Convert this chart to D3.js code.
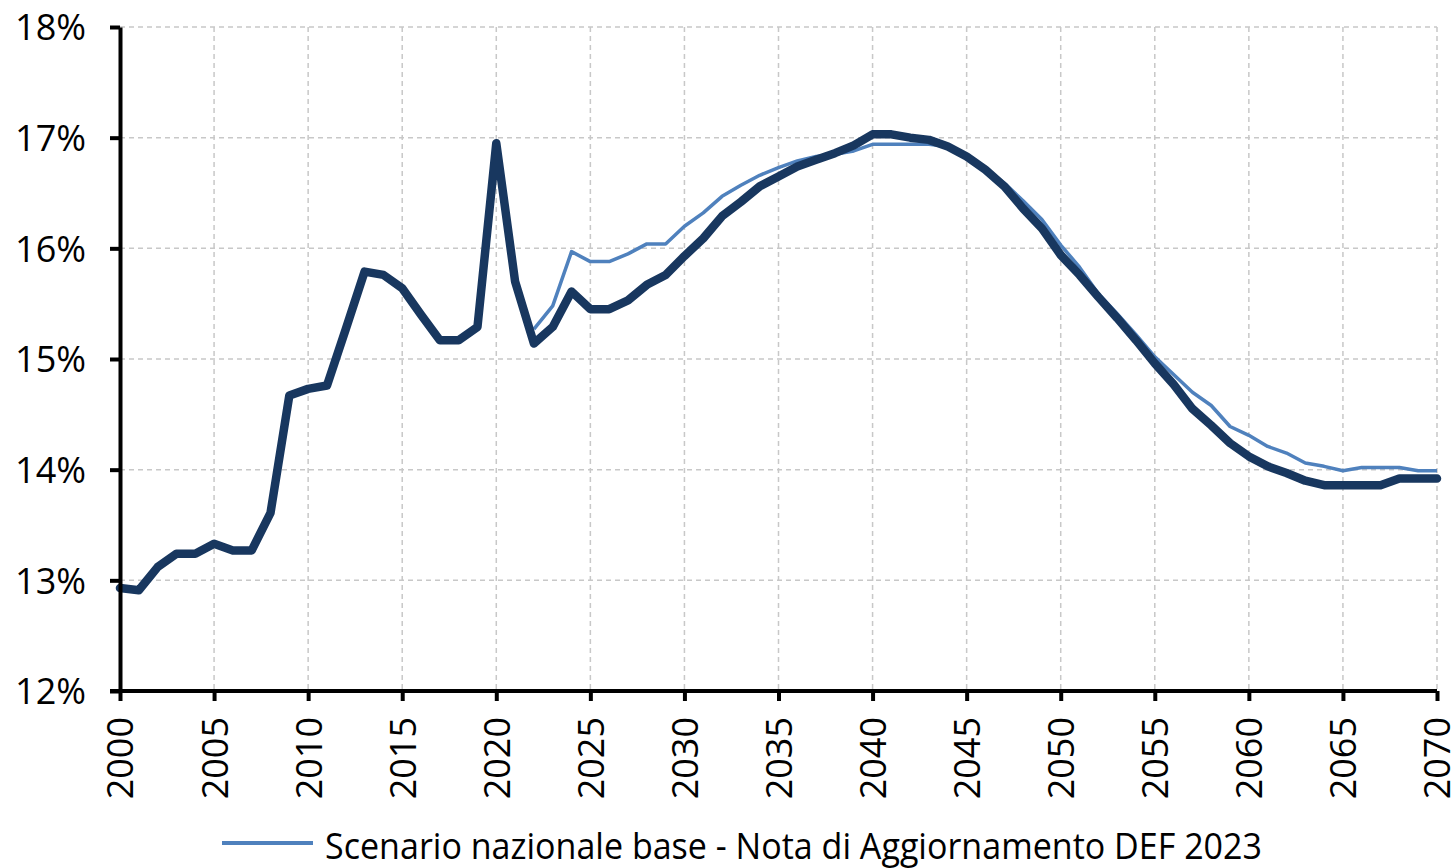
<!DOCTYPE html>
<html>
<head>
<meta charset="utf-8">
<script src="https://cdn.jsdelivr.net/npm/d3@7/dist/d3.min.js"></script>
<style>
  html, body { margin: 0; padding: 0; background: #fff; }
  svg { display: block; }
  text { font-family: "Open Sans", "Noto Sans", sans-serif; font-weight: 400; fill: #000; }
</style>
</head>
<body>
<svg id="chart" width="1454" height="868"></svg>
<script>
// Pension expenditure as % of GDP, 2000-2070
const years = d3.range(2000, 2071);

// Main projection (dark line), one value per year 2000-2070
const mainSeries = [
  12.93, 12.91, 13.12, 13.24, 13.24, 13.33, 13.27, 13.27, 13.61, 14.67,
  14.73, 14.76, 15.27, 15.79, 15.76, 15.64, 15.40, 15.17, 15.17, 15.29,
  16.95, 15.70, 15.14, 15.29, 15.61, 15.45, 15.45, 15.53, 15.67, 15.76,
  15.93, 16.09, 16.29, 16.42, 16.56, 16.65, 16.74, 16.80, 16.86, 16.93,
  17.03, 17.03, 17.00, 16.98, 16.92, 16.83, 16.71, 16.56, 16.36, 16.18,
  15.94, 15.76, 15.56, 15.37, 15.17, 14.96, 14.77, 14.55, 14.40, 14.24,
  14.12, 14.03, 13.97, 13.90, 13.86, 13.86, 13.86, 13.86, 13.92, 13.92,
  13.92
];

// Baseline national scenario (light line), 2022-2070
const baseYears = d3.range(2022, 2071);
const baseSeries = [
  15.27, 15.48, 15.97, 15.88, 15.88, 15.95, 16.04, 16.04,
  16.20, 16.32, 16.47, 16.57, 16.66, 16.73, 16.79, 16.83, 16.85, 16.88,
  16.94, 16.94, 16.94, 16.94, 16.92, 16.83, 16.72, 16.59, 16.43, 16.26,
  16.03, 15.83, 15.59, 15.41, 15.22, 15.02, 14.86, 14.70, 14.58, 14.39,
  14.31, 14.21, 14.15, 14.06, 14.03, 13.99, 14.02, 14.02, 14.02, 13.99,
  13.99
];

const yTicks = [12, 13, 14, 15, 16, 17, 18];
const xTicks = d3.range(2000, 2071, 5);
const legendLabel = "Scenario nazionale base - Nota di Aggiornamento DEF 2023";

const colDark = "#18375f";
const colLight = "#4f81bd";

const svg = d3.select("#chart");
const plotLeft = 120, plotRight = 1437, plotTop = 27, plotBottom = 691;

const x = d3.scaleLinear().domain([2000, 2070]).range([plotLeft, plotRight]);
const y = d3.scaleLinear().domain([12, 18]).range([plotBottom, plotTop]);

// Dashed grid
const grid = svg.append("g").attr("stroke", "#c8c8c8").attr("stroke-width", 1.5)
  .attr("stroke-dasharray", "5,4").attr("fill", "none");
grid.selectAll("line.h").data(yTicks.filter(d => d > 12)).join("line")
  .attr("class", "h")
  .attr("x1", plotLeft).attr("x2", plotRight)
  .attr("y1", d => y(d)).attr("y2", d => y(d));
grid.selectAll("line.v").data(xTicks.filter(d => d > 2000)).join("line")
  .attr("class", "v")
  .attr("y1", plotTop).attr("y2", plotBottom)
  .attr("x1", d => x(d)).attr("x2", d => x(d));

// Series lines
const line = d3.line().x(d => x(d[0])).y(d => y(d[1]));

svg.append("path")
  .datum(baseYears.map((yr, i) => [yr, baseSeries[i]]))
  .attr("fill", "none")
  .attr("stroke", colLight)
  .attr("stroke-width", 3.5)
  .attr("stroke-linejoin", "round")
  .attr("d", line);

svg.append("path")
  .datum(years.map((yr, i) => [yr, mainSeries[i]]))
  .attr("fill", "none")
  .attr("stroke", colDark)
  .attr("stroke-width", 8.5)
  .attr("stroke-linejoin", "round")
  .attr("stroke-linecap", "round")
  .attr("d", line);

// Axes
const yAxis = svg.append("g")
  .attr("transform", `translate(${plotLeft},0)`)
  .call(d3.axisLeft(y).tickValues(yTicks).tickFormat(d => d + "%")
    .tickSize(10).tickSizeOuter(0).tickPadding(24));
yAxis.select(".domain").attr("stroke", "#000").attr("stroke-width", 4);
yAxis.selectAll(".tick line").attr("stroke", "#000").attr("stroke-width", 4);
yAxis.selectAll(".tick text")
  .style("font-size", "36px")
  .attr("dy", "0.36em");

const xAxis = svg.append("g")
  .attr("transform", `translate(0,${plotBottom})`)
  .call(d3.axisBottom(x).tickValues(xTicks).tickFormat(d3.format("d"))
    .tickSize(10).tickSizeOuter(0));
xAxis.select(".domain").attr("stroke", "#000").attr("stroke-width", 4)
  .attr("d", `M${plotLeft - 10},0H${plotRight}`);
xAxis.selectAll(".tick line").attr("stroke", "#000").attr("stroke-width", 4);
xAxis.selectAll(".tick text")
  .style("font-size", "36px")
  .attr("text-anchor", "end")
  .attr("transform", "rotate(-90)")
  .attr("x", -26)
  .attr("y", 0)
  .attr("dy", "0.36em");

// Legend
const lg = svg.append("g");
lg.append("line")
  .attr("x1", 222).attr("x2", 313)
  .attr("y1", 843).attr("y2", 843)
  .attr("stroke", colLight).attr("stroke-width", 4);
lg.append("text")
  .attr("x", 325).attr("y", 859)
  .style("font-size", "36px")
  .attr("textLength", 937)
  .attr("lengthAdjust", "spacingAndGlyphs")
  .text(legendLabel);
</script>
</body>
</html>
